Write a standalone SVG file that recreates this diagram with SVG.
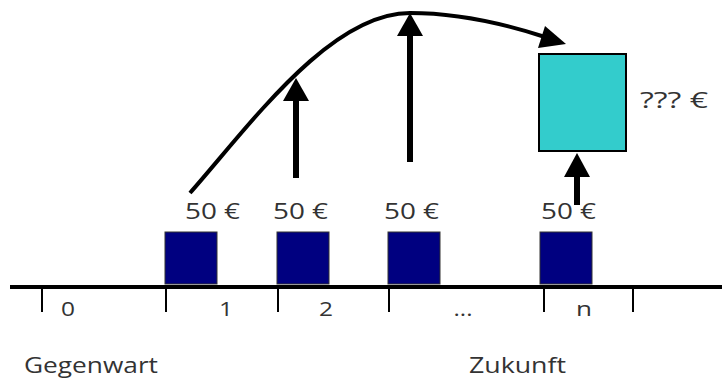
<svg xmlns="http://www.w3.org/2000/svg" width="722" height="380" viewBox="0 0 722 380">
<defs>
<style>
.t{font-family:"Open Sans","DejaVu Sans",sans-serif;font-size:20px;fill:#333}
.m{font-size:22px}
.big{font-size:21px}
.pay{fill:#000080;stroke:#333;stroke-width:1}
.tick{stroke:#000;stroke-width:2}
.arr{stroke:#000;stroke-width:6;fill:none}
.head{fill:#000}
</style>
</defs>
<rect width="722" height="380" fill="#fff"/>
<g id="timeline">
<line x1="10" y1="287" x2="722" y2="287" stroke="#000" stroke-width="4"/>
<line class="tick" x1="42" y1="287" x2="42" y2="312"/>
<line class="tick" x1="166" y1="287" x2="166" y2="312"/>
<line class="tick" x1="278" y1="287" x2="278" y2="312"/>
<line class="tick" x1="389" y1="287" x2="389" y2="312"/>
<line class="tick" x1="544" y1="287" x2="544" y2="312"/>
<line class="tick" x1="633" y1="287" x2="633" y2="312"/>
<text class="t" x="68" y="316" text-anchor="middle" textLength="14" lengthAdjust="spacingAndGlyphs">0</text>
<text class="t" x="226" y="316" text-anchor="middle" textLength="14" lengthAdjust="spacingAndGlyphs">1</text>
<text class="t" x="326" y="316" text-anchor="middle" textLength="14" lengthAdjust="spacingAndGlyphs">2</text>
<text class="t" x="463" y="316" text-anchor="middle" textLength="19" lengthAdjust="spacingAndGlyphs">...</text>
<text class="t" x="584" y="316" text-anchor="middle" textLength="16" lengthAdjust="spacingAndGlyphs">n</text>
</g>
<g id="p1"><rect class="pay" x="165" y="232" width="52" height="52"/><text class="t m" x="185" y="219" textLength="55" lengthAdjust="spacingAndGlyphs">50 €</text></g>
<g id="p2"><rect class="pay" x="277" y="232" width="52" height="52"/><text class="t m" x="273" y="219" textLength="55" lengthAdjust="spacingAndGlyphs">50 €</text></g>
<g id="p3"><rect class="pay" x="388" y="232" width="52" height="52"/><text class="t m" x="384" y="219" textLength="55" lengthAdjust="spacingAndGlyphs">50 €</text></g>
<g id="pn"><rect class="pay" x="540" y="232" width="52" height="52"/><text class="t m" x="541" y="219" textLength="55" lengthAdjust="spacingAndGlyphs">50 €</text></g>
<g id="future"><rect x="539" y="54" width="87" height="97" fill="#33CCCC" stroke="#000" stroke-width="2"/><text class="t m" x="640" y="108" textLength="68" lengthAdjust="spacingAndGlyphs">??? €</text></g>
<g id="connectors">
<path d="M190,193 C250,125 330,13 410,13 C460,13 505,24 545,37" stroke="#000" stroke-width="4" fill="none"/>
<polygon class="head" points="566,44 538,48 545,26"/>
<line class="arr" x1="296" y1="178" x2="296" y2="98"/>
<polygon class="head" points="296,78 283,101 309,101"/>
<line class="arr" x1="410" y1="162" x2="410" y2="33"/>
<polygon class="head" points="410,13 397,36 423,36"/>
<line class="arr" x1="577" y1="205" x2="577" y2="172"/>
<polygon class="head" points="577,153 564,177 590,177"/>
</g>
<g id="labels">
<text class="t big" x="24" y="373" textLength="134" lengthAdjust="spacingAndGlyphs">Gegenwart</text>
<text class="t big" x="469" y="373" textLength="97" lengthAdjust="spacingAndGlyphs">Zukunft</text>
</g>
</svg>
